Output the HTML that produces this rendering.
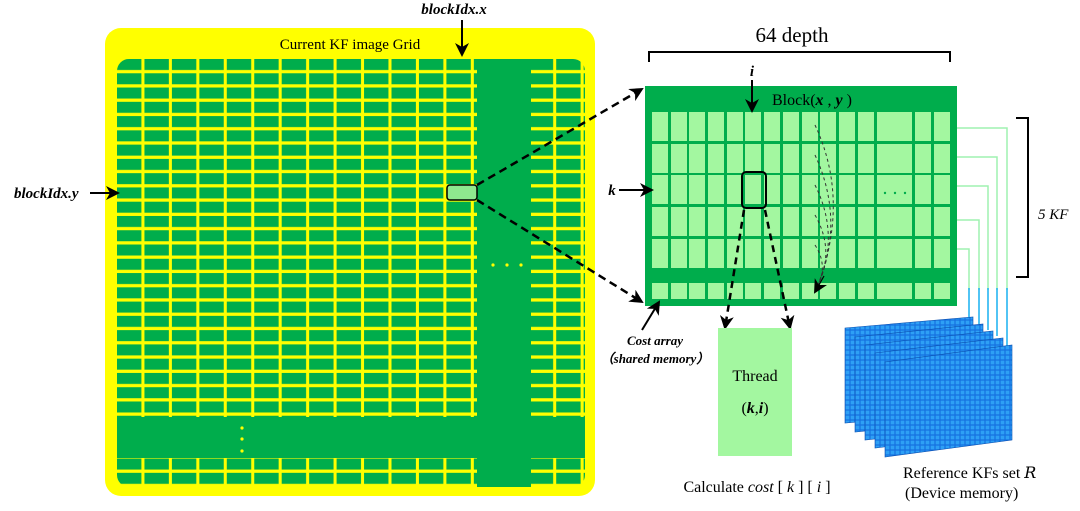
<!DOCTYPE html>
<html><head><meta charset="utf-8"><style>
html,body{margin:0;padding:0;background:#fff;}
svg{display:block;}
text{font-family:"Liberation Serif",serif;}
</style></head><body>
<svg width="1080" height="511" viewBox="0 0 1080 511" xmlns="http://www.w3.org/2000/svg">
<defs>
<pattern id="g" patternUnits="userSpaceOnUse" x="117" y="59" width="27.45" height="14.27">
<rect width="27.45" height="14.27" fill="#ffff00"/>
<rect x="0" y="0" width="24.4" height="11" fill="#00ad4c"/>
</pattern>
<pattern id="b" patternUnits="userSpaceOnUse" x="0" y="0" width="5" height="5">
<rect width="5" height="5" fill="#1570e0"/>
<rect x="0.6" y="0.6" width="3.8" height="3.8" fill="#2ea0f5"/>
</pattern>
<clipPath id="gc"><rect x="117" y="59" width="468" height="428" rx="12"/></clipPath>
<marker id="ah" markerWidth="14" markerHeight="14" refX="12" refY="7" orient="auto" markerUnits="userSpaceOnUse">
<path d="M0,0 L14,7 L0,14 L4,7 Z" fill="#000"/></marker>
</defs>

<rect x="105" y="28" width="490" height="468" rx="16" fill="#ffff00"/>
<text x="350" y="49" font-size="15" text-anchor="middle">Current KF image Grid</text>
<g clip-path="url(#gc)">
<rect x="117" y="59" width="468" height="430" fill="url(#g)"/>
<rect x="477" y="59" width="54" height="430" fill="#00ad4c"/>
<rect x="117" y="417" width="468" height="41" fill="#00ad4c"/>
</g>
<circle cx="493" cy="265" r="1.6" fill="#ffff00"/><circle cx="507" cy="265" r="1.6" fill="#ffff00"/><circle cx="521" cy="265" r="1.6" fill="#ffff00"/>
<circle cx="242" cy="428" r="1.6" fill="#ffff00"/><circle cx="242" cy="439" r="1.6" fill="#ffff00"/><circle cx="242" cy="451" r="1.6" fill="#ffff00"/>
<rect x="447" y="185" width="30" height="15" rx="3" fill="#8fe88f" stroke="#000" stroke-width="1.5"/>

<text x="454" y="14" font-size="15" font-weight="bold" font-style="italic" text-anchor="middle">blockIdx.x</text>
<line x1="462" y1="20" x2="462" y2="55" stroke="#000" stroke-width="2" marker-end="url(#ah)"/>
<text x="14" y="198" font-size="15" font-weight="bold" font-style="italic">blockIdx.y</text>
<line x1="90" y1="193" x2="118" y2="193" stroke="#000" stroke-width="2" marker-end="url(#ah)"/>

<line x1="477" y1="185" x2="642" y2="89" stroke="#000" stroke-width="2.5" stroke-dasharray="8,5" marker-end="url(#ah)"/>
<line x1="477" y1="200" x2="642" y2="302" stroke="#000" stroke-width="2.5" stroke-dasharray="8,5" marker-end="url(#ah)"/>

<text x="792" y="42" font-size="21" text-anchor="middle">64 depth</text>
<path d="M649,62 V52 H950 V62" fill="none" stroke="#000" stroke-width="2"/>

<rect x="645" y="86" width="312" height="220" fill="#00ad4c"/>
<g fill="#a3f7a0" id="r1">
<rect x="652" y="112" width="16" height="29"/><rect x="671" y="112" width="16" height="29"/><rect x="689" y="112" width="16" height="29"/><rect x="708" y="112" width="16" height="29"/><rect x="727" y="112" width="16" height="29"/><rect x="745" y="112" width="16" height="29"/><rect x="764" y="112" width="16" height="29"/><rect x="783" y="112" width="16" height="29"/><rect x="802" y="112" width="16" height="29"/><rect x="820" y="112" width="16" height="29"/><rect x="839" y="112" width="16" height="29"/><rect x="858" y="112" width="16" height="29"/><rect x="877" y="112" width="35" height="29"/><rect x="915" y="112" width="16" height="29"/><rect x="934" y="112" width="16" height="29"/>
</g>
<use href="#r1" y="32"/>
<use href="#r1" y="63"/>
<use href="#r1" y="95"/>
<use href="#r1" y="127"/>
<g fill="#a3f7a0">
<rect x="652" y="283" width="16" height="16"/><rect x="671" y="283" width="16" height="16"/><rect x="689" y="283" width="16" height="16"/><rect x="708" y="283" width="16" height="16"/><rect x="727" y="283" width="16" height="16"/><rect x="745" y="283" width="16" height="16"/><rect x="764" y="283" width="16" height="16"/><rect x="783" y="283" width="16" height="16"/><rect x="802" y="283" width="16" height="16"/><rect x="820" y="283" width="16" height="16"/><rect x="839" y="283" width="16" height="16"/><rect x="858" y="283" width="16" height="16"/><rect x="877" y="283" width="35" height="16"/><rect x="915" y="283" width="16" height="16"/><rect x="934" y="283" width="16" height="16"/>
</g>
<circle cx="885" cy="193" r="1.2" fill="#00ad4c"/><circle cx="895" cy="193" r="1.2" fill="#00ad4c"/><circle cx="905" cy="193" r="1.2" fill="#00ad4c"/>
<text x="772" y="105" font-size="16">Block(<tspan font-style="italic" font-weight="bold">x</tspan> , <tspan font-style="italic" font-weight="bold">y</tspan>  )</text>
<text x="752" y="76" font-size="15" font-weight="bold" font-style="italic" text-anchor="middle">i</text>
<line x1="752" y1="80" x2="752" y2="111" stroke="#000" stroke-width="2" marker-end="url(#ah)"/>
<text x="612" y="195" font-size="15" font-weight="bold" font-style="italic" text-anchor="middle">k</text>
<line x1="619" y1="190" x2="652" y2="190" stroke="#000" stroke-width="2" marker-end="url(#ah)"/>
<rect x="742" y="172" width="24" height="36" rx="4" fill="none" stroke="#000" stroke-width="2"/>

<g fill="none" stroke="#333" stroke-width="1" stroke-dasharray="3,3">
<path d="M815,125 Q850,200 818,285"/><path d="M815,155 Q845,220 818,285"/><path d="M815,185 Q840,235 818,285"/><path d="M815,215 Q835,250 818,285"/><path d="M815,245 Q828,265 818,285"/>
</g>
<line x1="824" y1="276" x2="815" y2="292" stroke="#000" stroke-width="1.2" marker-end="url(#ah)"/>

<line x1="744" y1="210" x2="725" y2="328" stroke="#000" stroke-width="2.5" stroke-dasharray="7,5" marker-end="url(#ah)"/>
<line x1="765" y1="210" x2="790" y2="328" stroke="#000" stroke-width="2.5" stroke-dasharray="7,5" marker-end="url(#ah)"/>
<rect x="718" y="328" width="74" height="128" fill="#a3f7a0"/>
<text x="755" y="381" font-size="16" text-anchor="middle">Thread</text>
<text x="755" y="413" font-size="16" text-anchor="middle">(<tspan font-weight="bold" font-style="italic">k</tspan>,<tspan font-weight="bold" font-style="italic">i</tspan>)</text>
<text x="757" y="492" font-size="16" text-anchor="middle">Calculate <tspan font-style="italic">cost</tspan> [ <tspan font-style="italic">k</tspan> ] [ <tspan font-style="italic">i</tspan> ]</text>

<line x1="642" y1="330" x2="659" y2="302" stroke="#000" stroke-width="2" marker-end="url(#ah)"/>
<text x="655" y="345" font-size="13" font-weight="bold" font-style="italic" text-anchor="middle">Cost array</text>
<text x="655" y="363" font-size="13" font-weight="bold" font-style="italic" text-anchor="middle">（shared  memory）</text>

<path d="M1016,118 H1028 V277 H1016" fill="none" stroke="#000" stroke-width="2"/>
<text x="1038" y="219" font-size="15" font-style="italic">5 KF</text>

<g fill="none" stroke-width="1.5">
<path d="M957,128 H1007 V290" stroke="#9ff2b0"/>
<path d="M957,157 H997 V290" stroke="#9ff2b0"/>
<path d="M957,186 H988 V290" stroke="#9ff2b0"/>
<path d="M957,220 H979 V290" stroke="#9ff2b0"/>
<path d="M957,249 H969 V290" stroke="#9ff2b0"/>
<path d="M1007,288 V346 M997,288 V336 M988,288 V330 M979,288 V324 M969,288 V320" stroke="#18b0f0"/>
</g>

<g stroke="#0a4fb0" stroke-width="0.6">
<polygon points="845,328 973,317 973,412 845,423" fill="url(#b)"/>
<polygon points="855,337 983,324 983,419 855,432" fill="url(#b)"/>
<polygon points="865,345 993,331 993,426 865,440" fill="url(#b)"/>
<polygon points="875,353 1003,338 1003,433 875,448" fill="url(#b)"/>
<polygon points="885,362 1012,345 1012,440 885,457" fill="url(#b)"/>
</g>
<text x="903" y="478" font-size="16">Reference KFs set <tspan font-style="italic" font-family="DejaVu Serif">R</tspan></text>
<text x="905" y="498" font-size="16">(Device memory)</text>
</svg>
</body></html>
